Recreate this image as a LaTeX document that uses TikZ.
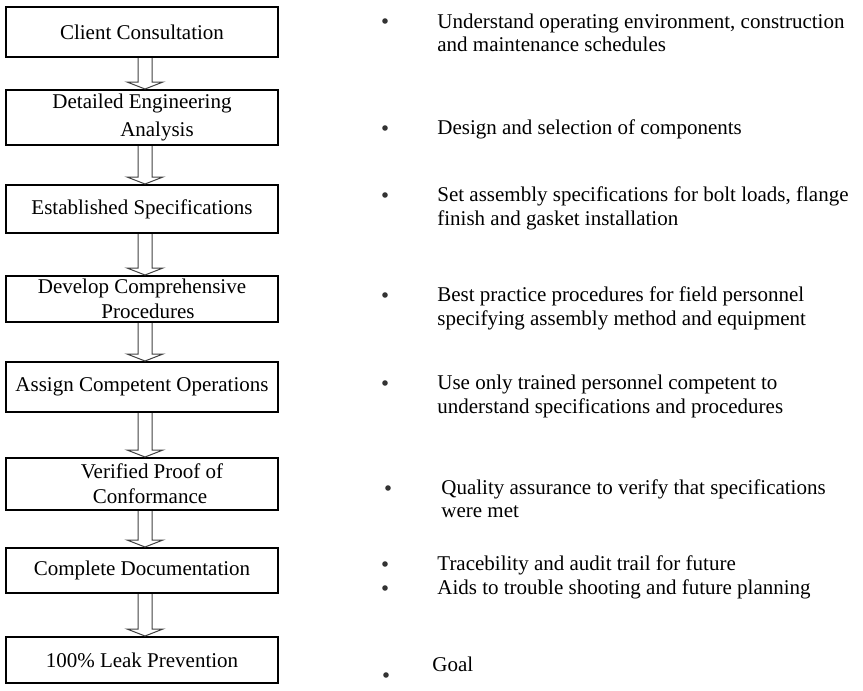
\documentclass[tikz,border=0pt]{standalone}
\usepackage{fontspec}
\setmainfont{Liberation Serif}
\usetikzlibrary{calc}

% freccia cava da un riquadro al successivo
\newcommand{\freccia}[2]{%
	\draw[freccia] let \p1=($(#1.south)+(1.5pt,0)$), \p2=($(#2.north)+(1.5pt,0)$) in
	(\x1-3.5pt,\y1)--(\x1-3.5pt,\y2+3.5pt)--(\x1-9pt,\y2+3.5pt)--(\x2,\y2)
	--(\x1+9pt,\y2+3.5pt)--(\x1+3.5pt,\y2+3.5pt)--(\x1+3.5pt,\y1);}

\begin{document}
\begin{tikzpicture}[
			x=0.5pt, y=-0.5pt,
			fase/.style={draw=black, line width=1.0pt, inner sep=0pt,
				minimum width=136pt, align=center,
				font=\fontsize{10.5pt}{12.5pt}\selectfont},
			freccia/.style={line width=0.5pt, black!75, line join=miter},
			nota/.style={anchor=base west, inner sep=0pt,
				font=\fontsize{10.5pt}{12.5pt}\selectfont},
			punto/.style={circle, fill=black!80, inner sep=0pt, minimum size=2.8pt},
			]
			\useasboundingbox (0,0) rectangle (863,691);
			
			%% ── fasi del processo ─────────────────────────────────
			\node[fase, minimum height=25pt]  (f1) at (142,32)    {Client Consultation};
			\node[fase, minimum height=27.5pt](f2) at (142,117.5) {Detailed Engineering\\[1.5pt]\hspace*{15pt}Analysis};
			\node[fase, minimum height=24pt]  (f3) at (142,209)   {Established Specifications};
			\node[fase, minimum height=23pt]  (f4) at (142,299)   {Develop Comprehensive\\\hspace*{6pt}Procedures};
			\node[fase, minimum height=25pt]  (f5) at (142,387)   {Assign Competent Operations};
			\node[fase, minimum height=26pt]  (f6) at (142,484)   {\hspace*{10pt}Verified Proof of\\\hspace*{8pt}Conformance};
			\node[fase, minimum height=22.5pt](f7) at (142,570.5) {Complete Documentation};
			\node[fase, minimum height=23pt]  (f8) at (142,660)   {100\% Leak Prevention};
			
			\freccia{f1}{f2}
			\freccia{f2}{f3}
			\freccia{f3}{f4}
			\freccia{f4}{f5}
			\freccia{f5}{f6}
			\freccia{f6}{f7}
			\freccia{f7}{f8}
			
			%% ── note a destra ─────────────────────────────────────
			\node[punto] (p1) at (385,21) {};
			\node[nota] (n1a) at (437,28) {Understand operating environment, construction};
			\node[nota] (n1b) at (437,51) {and maintenance schedules};
			
			\node[punto] (p2) at (385,128) {};
			\node[nota] (n2a) at (437,134) {Design and selection of components};
			
			\node[punto] (p3) at (385,195) {};
			\node[nota] (n3a) at (437,201) {Set assembly specifications for bolt loads, flange};
			\node[nota] (n3b) at (437,225) {finish and gasket installation};
			
			\node[punto] (p4) at (385,295) {};
			\node[nota] (n4a) at (437,301) {Best practice procedures for field personnel};
			\node[nota] (n4b) at (437,325) {specifying assembly method and equipment};
			
			\node[punto] (p5) at (385,383) {};
			\node[nota] (n5a) at (437,389) {Use only trained personnel competent to};
			\node[nota] (n5b) at (437,413) {understand specifications and procedures};
			
			\node[punto] (p6) at (388,488) {};
			\node[nota] (n6a) at (441,494) {Quality assurance to verify that specifications};
			\node[nota] (n6b) at (441,517) {were met};
			
			\node[punto] (p7a) at (385,564) {};
			\node[nota] (n7a) at (437,570) {Tracebility and audit trail for future};
			\node[punto] (p7b) at (385,588) {};
			\node[nota] (n7b) at (437,594) {Aids to trouble shooting and future planning};
			
			\node[punto] (p8) at (386,675) {};
			\node[nota] (n8a) at (432,671) {Goal};
			
	\end{tikzpicture}
\end{document}
